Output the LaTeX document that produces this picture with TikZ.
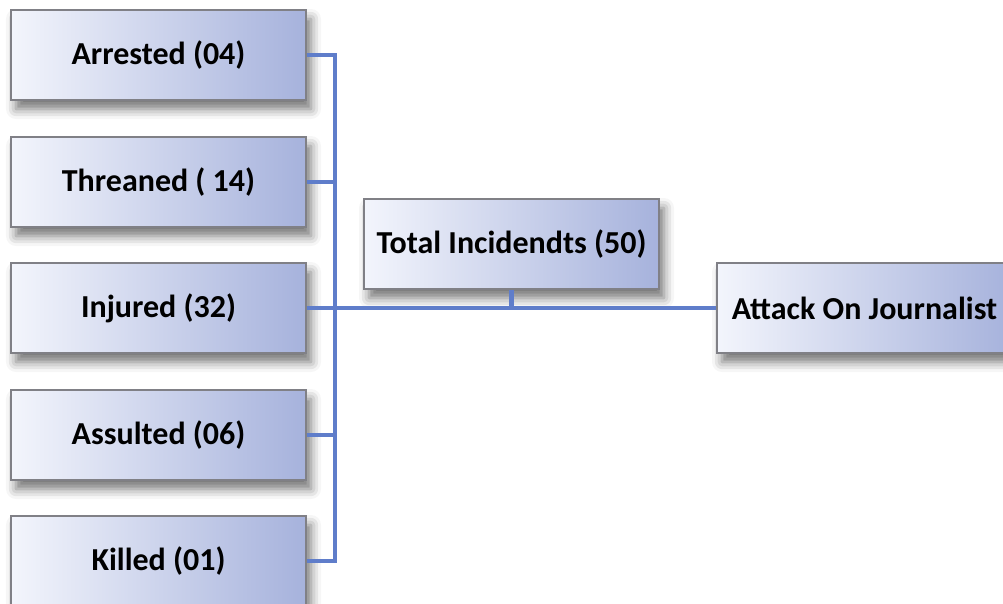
\documentclass[tikz,border=0pt]{standalone}
\usepackage{fontspec}
\setmainfont{Carlito}
\usetikzlibrary{shadows.blur}
\definecolor{boxL}{RGB}{243,245,252}
\definecolor{boxR}{RGB}{166,178,220}
\definecolor{boxB}{RGB}{128,128,134}
\definecolor{conn}{RGB}{95,125,202}
\tikzset{
  box/.style={rectangle, draw=boxB, line width=1.3pt, left color=boxL, right color=boxR,
    minimum width=295pt, minimum height=90pt, inner sep=0pt,
    font=\fontsize{32}{37}\selectfont\bfseries,
    blur shadow={shadow xshift=5pt, shadow yshift=-9pt, shadow blur radius=10pt, shadow opacity=55}},
  link/.style={draw=conn, line width=4.3pt}
}
\begin{document}
\begin{tikzpicture}[x=1pt,y=-1pt]
\clip (0,0) rectangle (1003,603);
\useasboundingbox (0,0) rectangle (1003,603);
\node[box] (arr) at (158.5,55) {Arrested (04)};
\node[box] (thr) at (158.5,182) {Threaned ( 14)};
\node[box] (inj) at (158.5,308) {Injured (32)};
\node[box] (ass) at (158.5,435) {Assulted (06)};
\node[box] (kil) at (158.5,561) {Killed (01)};
\node[box] (tot) at (511.5,244) {Total Incidendts (50)};
\node[box] (att) at (864.5,308) {Attack On Journalist};
\coordinate (bx) at (335,308);
\draw[link] (arr.east) -| (bx);
\draw[link] (thr.east) -| (bx);
\draw[link] (kil.east) -| (bx);
\draw[link] (ass.east) -| (bx);
\draw[link] (inj.east) -- (bx) -- (att.west);
\draw[link] (tot.south) -- (tot.south |- bx);
\end{tikzpicture}
\end{document}
